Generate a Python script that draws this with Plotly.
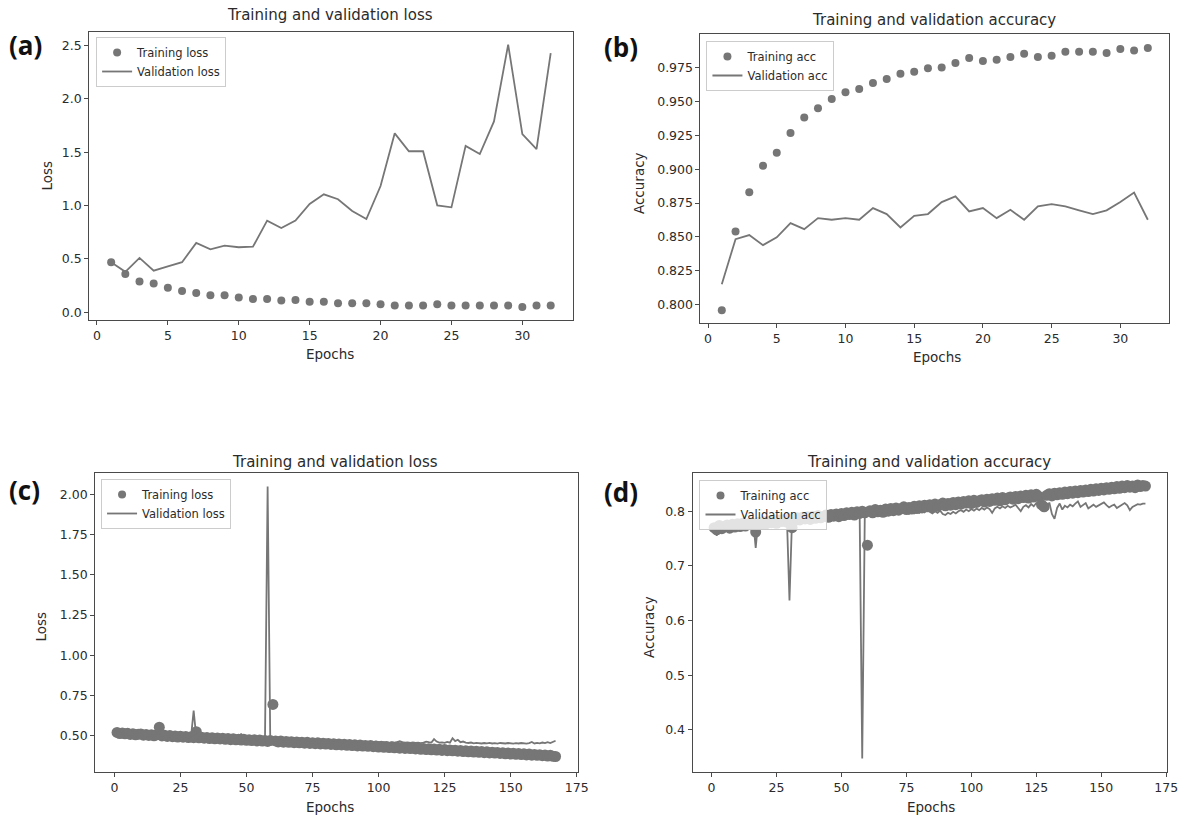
import plotly.graph_objects as go

# ---- Run 1: 32 epochs ----
epochs_a = list(range(1, 33))
train_loss_a = [0.47, 0.36, 0.29, 0.27, 0.23, 0.20, 0.18, 0.16, 0.16, 0.14,
                0.125, 0.125, 0.11, 0.115, 0.10, 0.10, 0.085, 0.085, 0.085, 0.075,
                0.063, 0.063, 0.063, 0.075, 0.063, 0.063, 0.063, 0.063, 0.063, 0.05,
                0.063, 0.063]
val_loss_a = [0.47, 0.38, 0.51, 0.39, 0.43, 0.47, 0.65, 0.59, 0.625, 0.61,
              0.615, 0.86, 0.79, 0.86, 1.016, 1.106, 1.06, 0.95, 0.875, 1.184,
              1.678, 1.51, 1.51, 1.003, 0.984, 1.56, 1.484, 1.79, 2.51, 1.67,
              1.53, 2.43]
train_acc_b = [0.796, 0.854, 0.883, 0.9025, 0.912, 0.9266, 0.938, 0.9448, 0.9517, 0.9566,
               0.959, 0.9635, 0.9664, 0.9703, 0.9718, 0.9743, 0.975, 0.9782, 0.9819, 0.9797,
               0.9807, 0.9826, 0.9851, 0.9826, 0.9836, 0.9865, 0.9865, 0.9865, 0.9856, 0.9885,
               0.9875, 0.9893]
val_acc_b = [0.8152, 0.8484, 0.8514, 0.844, 0.8497, 0.8602, 0.8558, 0.8639, 0.8627, 0.8639,
             0.8627, 0.8713, 0.8669, 0.857, 0.8656, 0.8669, 0.8757, 0.8799, 0.8688, 0.8713,
             0.8639, 0.870, 0.8627, 0.8725, 0.8742, 0.8725, 0.8696, 0.8669, 0.8696, 0.8757,
             0.8828, 0.8627]

# ---- Run 2: 167 epochs ----
epochs_c = list(range(1, 168))
train_loss_c = [
    0.520, 0.513, 0.516, 0.511, 0.514, 0.507, 0.512, 0.505, 0.509, 0.510,
    0.503, 0.507, 0.501, 0.506, 0.499, 0.505, 0.552, 0.498, 0.503, 0.495,
    0.500, 0.493, 0.498, 0.491, 0.496, 0.490, 0.494, 0.488, 0.493, 0.487,
    0.524, 0.486, 0.490, 0.484, 0.489, 0.482, 0.487, 0.480, 0.485, 0.479,
    0.483, 0.477, 0.482, 0.475, 0.480, 0.474, 0.478, 0.472, 0.477, 0.471,
    0.475, 0.469, 0.474, 0.467, 0.472, 0.466, 0.470, 0.464, 0.469, 0.694,
    0.467, 0.461, 0.466, 0.459, 0.464, 0.458, 0.462, 0.456, 0.461, 0.455,
    0.459, 0.453, 0.458, 0.451, 0.456, 0.450, 0.455, 0.448, 0.453, 0.447,
    0.451, 0.445, 0.450, 0.443, 0.448, 0.442, 0.446, 0.440, 0.445, 0.438,
    0.443, 0.436, 0.441, 0.435, 0.439, 0.433, 0.438, 0.431, 0.436, 0.429,
    0.434, 0.427, 0.432, 0.426, 0.430, 0.424, 0.429, 0.422, 0.427, 0.420,
    0.425, 0.419, 0.423, 0.417, 0.422, 0.415, 0.420, 0.413, 0.418, 0.412,
    0.416, 0.410, 0.415, 0.408, 0.413, 0.406, 0.411, 0.405, 0.409, 0.403,
    0.408, 0.401, 0.406, 0.399, 0.404, 0.398, 0.402, 0.396, 0.401, 0.394,
    0.399, 0.392, 0.397, 0.391, 0.395, 0.389, 0.394, 0.387, 0.392, 0.385,
    0.390, 0.384, 0.388, 0.382, 0.387, 0.380, 0.385, 0.378, 0.383, 0.377,
    0.381, 0.375, 0.379, 0.373, 0.377, 0.371, 0.370]
val_loss_c = [
    0.515, 0.512, 0.510, 0.513, 0.508, 0.510, 0.507, 0.505, 0.508, 0.504,
    0.503, 0.505, 0.501, 0.503, 0.499, 0.502, 0.500, 0.497, 0.499, 0.496,
    0.497, 0.494, 0.496, 0.493, 0.494, 0.491, 0.493, 0.490, 0.492, 0.655,
    0.489, 0.487, 0.489, 0.486, 0.487, 0.484, 0.486, 0.483, 0.484, 0.481,
    0.483, 0.480, 0.481, 0.478, 0.480, 0.477, 0.479, 0.512, 0.476, 0.475,
    0.474, 0.476, 0.472, 0.473, 0.471, 0.472, 0.470, 2.050, 0.469, 0.468,
    0.467, 0.468, 0.465, 0.466, 0.464, 0.465, 0.463, 0.462, 0.464, 0.461,
    0.462, 0.459, 0.461, 0.458, 0.460, 0.457, 0.459, 0.456, 0.458, 0.455,
    0.457, 0.454, 0.456, 0.453, 0.455, 0.452, 0.463, 0.451, 0.453, 0.450,
    0.452, 0.449, 0.453, 0.451, 0.460, 0.457, 0.459, 0.456, 0.462, 0.458,
    0.456, 0.459, 0.457, 0.455, 0.458, 0.456, 0.460, 0.465, 0.459, 0.456,
    0.458, 0.455, 0.457, 0.454, 0.456, 0.453, 0.457, 0.462, 0.459, 0.457,
    0.478, 0.463, 0.456, 0.458, 0.455, 0.461, 0.456, 0.484, 0.466, 0.474,
    0.459, 0.463, 0.456, 0.454, 0.457, 0.452, 0.455, 0.453, 0.451, 0.454,
    0.452, 0.455, 0.451, 0.453, 0.450, 0.454, 0.452, 0.451, 0.454, 0.452,
    0.450, 0.453, 0.451, 0.454, 0.452, 0.450, 0.453, 0.460, 0.451, 0.455,
    0.452, 0.457, 0.453, 0.459, 0.454, 0.460, 0.468]
train_acc_d = [
    0.770, 0.766, 0.774, 0.768, 0.772, 0.775, 0.769, 0.776, 0.771, 0.777,
    0.772, 0.778, 0.773, 0.776, 0.779, 0.774, 0.762, 0.780, 0.776, 0.781,
    0.777, 0.782, 0.779, 0.783, 0.778, 0.784, 0.781, 0.785, 0.780, 0.786,
    0.770, 0.783, 0.788, 0.784, 0.789, 0.786, 0.790, 0.785, 0.791, 0.787,
    0.792, 0.788, 0.790, 0.793, 0.789, 0.794, 0.791, 0.795, 0.790, 0.796,
    0.792, 0.797, 0.794, 0.798, 0.793, 0.799, 0.796, 0.800, 0.797, 0.738,
    0.801, 0.797, 0.803, 0.799, 0.802, 0.798, 0.804, 0.800, 0.805, 0.801,
    0.806, 0.802, 0.805, 0.808, 0.803, 0.807, 0.804, 0.809, 0.805, 0.810,
    0.806, 0.811, 0.808, 0.812, 0.807, 0.813, 0.809, 0.812, 0.815, 0.810,
    0.814, 0.811, 0.816, 0.812, 0.817, 0.813, 0.818, 0.815, 0.819, 0.814,
    0.820, 0.816, 0.819, 0.821, 0.817, 0.822, 0.818, 0.823, 0.820, 0.824,
    0.819, 0.825, 0.821, 0.824, 0.826, 0.822, 0.827, 0.823, 0.828, 0.825,
    0.829, 0.824, 0.830, 0.826, 0.831, 0.827, 0.812, 0.808, 0.829, 0.832,
    0.828, 0.833, 0.830, 0.834, 0.831, 0.835, 0.832, 0.836, 0.833, 0.837,
    0.834, 0.838, 0.835, 0.839, 0.836, 0.840, 0.837, 0.841, 0.838, 0.842,
    0.839, 0.843, 0.840, 0.844, 0.841, 0.845, 0.842, 0.846, 0.843, 0.847,
    0.844, 0.846, 0.843, 0.848, 0.845, 0.847, 0.846]
val_acc_d = [
    0.775, 0.755, 0.778, 0.776, 0.780, 0.778, 0.781, 0.779, 0.782, 0.780,
    0.783, 0.766, 0.782, 0.784, 0.781, 0.785, 0.733, 0.783, 0.786, 0.784,
    0.787, 0.785, 0.788, 0.786, 0.789, 0.787, 0.790, 0.788, 0.789, 0.637,
    0.788, 0.791, 0.789, 0.792, 0.790, 0.793, 0.791, 0.794, 0.792, 0.795,
    0.793, 0.796, 0.794, 0.797, 0.795, 0.798, 0.796, 0.785, 0.797, 0.799,
    0.797, 0.800, 0.798, 0.788, 0.799, 0.801, 0.799, 0.348, 0.800, 0.802,
    0.800, 0.803, 0.801, 0.799, 0.802, 0.800, 0.797, 0.801, 0.794, 0.799,
    0.796, 0.800, 0.797, 0.801, 0.798, 0.795, 0.799, 0.796, 0.800, 0.797,
    0.801, 0.798, 0.802, 0.799, 0.796, 0.800, 0.797, 0.801, 0.795, 0.793,
    0.797, 0.795, 0.799, 0.796, 0.800, 0.802, 0.799, 0.803, 0.800, 0.804,
    0.801, 0.805, 0.802, 0.806, 0.803, 0.807, 0.804, 0.797, 0.805, 0.808,
    0.805, 0.809, 0.806, 0.810, 0.807, 0.809, 0.812, 0.806, 0.800, 0.808,
    0.811, 0.807, 0.813, 0.809, 0.815, 0.810, 0.808, 0.812, 0.804, 0.816,
    0.795, 0.786, 0.806, 0.814, 0.803, 0.810, 0.807, 0.812, 0.809, 0.814,
    0.818, 0.808, 0.811, 0.815, 0.805, 0.809, 0.812, 0.808, 0.811, 0.814,
    0.816, 0.811, 0.807, 0.810, 0.812, 0.806, 0.809, 0.813, 0.815, 0.811,
    0.802, 0.808, 0.811, 0.813, 0.812, 0.814, 0.814]

W, H = 1194, 816
GRAY = "#767676"
TXT = "#2b2b2b"
FONT = "DejaVu Sans"


def px(x):
    return x / W


def py(y):
    return 1 - y / H


panels = [
    dict(xd=(90, 578), yd=(32, 320), xr=(-0.55, 33.55), yr=(-0.072, 2.628),
         yt=[0, 0.5, 1.0, 1.5, 2.0, 2.5], yf=".1f", xt=[0, 5, 10, 15, 20, 25, 30]),
    dict(xd=(707, 1180), yd=(34, 323), xr=(-0.55, 33.55), yr=(0.7866, 0.9996),
         yt=[0.8, 0.825, 0.85, 0.875, 0.9, 0.925, 0.95, 0.975], yf=".3f",
         xt=[0, 5, 10, 15, 20, 25, 30]),
    dict(xd=(96, 583), yd=(473, 772), xr=(-7.3, 175.35), yr=(0.2735, 2.1345),
         yt=[0.5, 0.75, 1.0, 1.25, 1.5, 1.75, 2.0], yf=".2f",
         xt=[0, 25, 50, 75, 100, 125, 150, 175]),
    dict(xd=(699, 1178), yd=(473, 772), xr=(-7.3, 175.35), yr=(0.3231, 0.8699),
         yt=[0.4, 0.5, 0.6, 0.7, 0.8], yf=".1f",
         xt=[0, 25, 50, 75, 100, 125, 150, 175]),
]

series = [
    (epochs_a, train_loss_a, val_loss_a, "Training loss", "Validation loss", 8),
    (epochs_a, train_acc_b, val_acc_b, "Training acc", "Validation acc", 8),
    (epochs_c, train_loss_c, val_loss_c, "Training loss", "Validation loss", 11),
    (epochs_c, train_acc_d, val_acc_d, "Training acc", "Validation acc", 11),
]

fig = go.Figure()
layout = dict(
    width=W, height=H, margin=dict(l=0, r=0, t=0, b=0),
    paper_bgcolor="white", plot_bgcolor="white",
    font=dict(family=FONT, size=12, color=TXT),
    showlegend=True,
)

legend_pos = [(97, 37), (713, 41), (102, 479), (706, 480)]

for i, (p, s) in enumerate(zip(panels, series)):
    k = "" if i == 0 else str(i + 1)
    ep, tr, va, tname, vname, msize = s
    lg = "legend" if i == 0 else f"legend{i + 1}"
    fig.add_trace(go.Scatter(x=ep, y=tr, mode="markers", name=tname, showlegend=False,
                             marker=dict(color=GRAY, size=msize, line=dict(width=0)),
                             xaxis="x" + k, yaxis="y" + k))
    fig.add_trace(go.Scatter(x=ep, y=va, mode="lines", name=vname, showlegend=False,
                             line=dict(color=GRAY, width=1.8),
                             xaxis="x" + k, yaxis="y" + k))
    # legend keys with a uniform symbol size
    fig.add_trace(go.Scatter(x=[None], y=[None], mode="markers", name=tname,
                             marker=dict(color=GRAY, size=8, line=dict(width=0)),
                             xaxis="x" + k, yaxis="y" + k, legend=lg))
    fig.add_trace(go.Scatter(x=[None], y=[None], mode="lines", name=vname,
                             line=dict(color=GRAY, width=1.8),
                             xaxis="x" + k, yaxis="y" + k, legend=lg))
    common = dict(showgrid=False, zeroline=False, showline=True, mirror=True,
                  linecolor="#4a4a4a", linewidth=1, ticks="outside", ticklen=4,
                  tickcolor="#4a4a4a", tickfont=dict(size=12.5, color=TXT, family=FONT))
    layout["xaxis" + k] = dict(domain=[px(p["xd"][0]), px(p["xd"][1])],
                               range=list(p["xr"]), tickvals=p["xt"],
                               anchor="y" + k, **common)
    layout["yaxis" + k] = dict(domain=[py(p["yd"][1]), py(p["yd"][0])],
                               range=list(p["yr"]), tickvals=p["yt"],
                               tickformat=p["yf"], anchor="x" + k, **common)
    lx, ly = legend_pos[i]
    layout[lg] = dict(x=px(lx), y=py(ly), xanchor="left", yanchor="top",
                      bgcolor="rgba(255,255,255,0.8)", bordercolor="#cccccc",
                      borderwidth=1, font=dict(size=11.5, color=TXT, family=FONT),
                      tracegroupgap=0, itemwidth=30)

fig.update_layout(**layout)

ann = []
# subplot titles
for text, x, y in [("Training and validation loss", 333, 15),
                   ("Training and validation accuracy", 943, 20),
                   ("Training and validation loss", 338, 462),
                   ("Training and validation accuracy", 938, 462)]:
    ann.append(dict(text=text, x=px(x), y=py(y), xref="paper", yref="paper",
                    showarrow=False, xanchor="center", yanchor="middle",
                    font=dict(size=15, color=TXT, family=FONT)))
# x-axis titles
for x, y in [(333, 354), (946, 357), (333, 807), (940, 807)]:
    ann.append(dict(text="Epochs", x=px(x), y=py(y), xref="paper", yref="paper",
                    showarrow=False, xanchor="center", yanchor="middle",
                    font=dict(size=13.5, color=TXT, family=FONT)))
# y-axis titles
for text, x, y in [("Loss", 47, 176), ("Accuracy", 645, 183),
                   ("Loss", 41, 627), ("Accuracy", 655, 627)]:
    ann.append(dict(text=text, x=px(x), y=py(y), xref="paper", yref="paper",
                    showarrow=False, xanchor="center", yanchor="middle", textangle=-90,
                    font=dict(size=13.5, color=TXT, family=FONT)))
# panel letters
for text, x, y in [("(a)", 26, 45), ("(b)", 627, 47), ("(c)", 25, 490), ("(d)", 627, 492)]:
    ann.append(dict(text=f"<b>{text}</b>", x=px(x), y=py(y), xref="paper", yref="paper",
                    showarrow=False, xanchor="center", yanchor="middle",
                    font=dict(size=26, color="#111111", family="Open Sans")))

fig.update_layout(annotations=ann)
fig.write_html("out.html")
